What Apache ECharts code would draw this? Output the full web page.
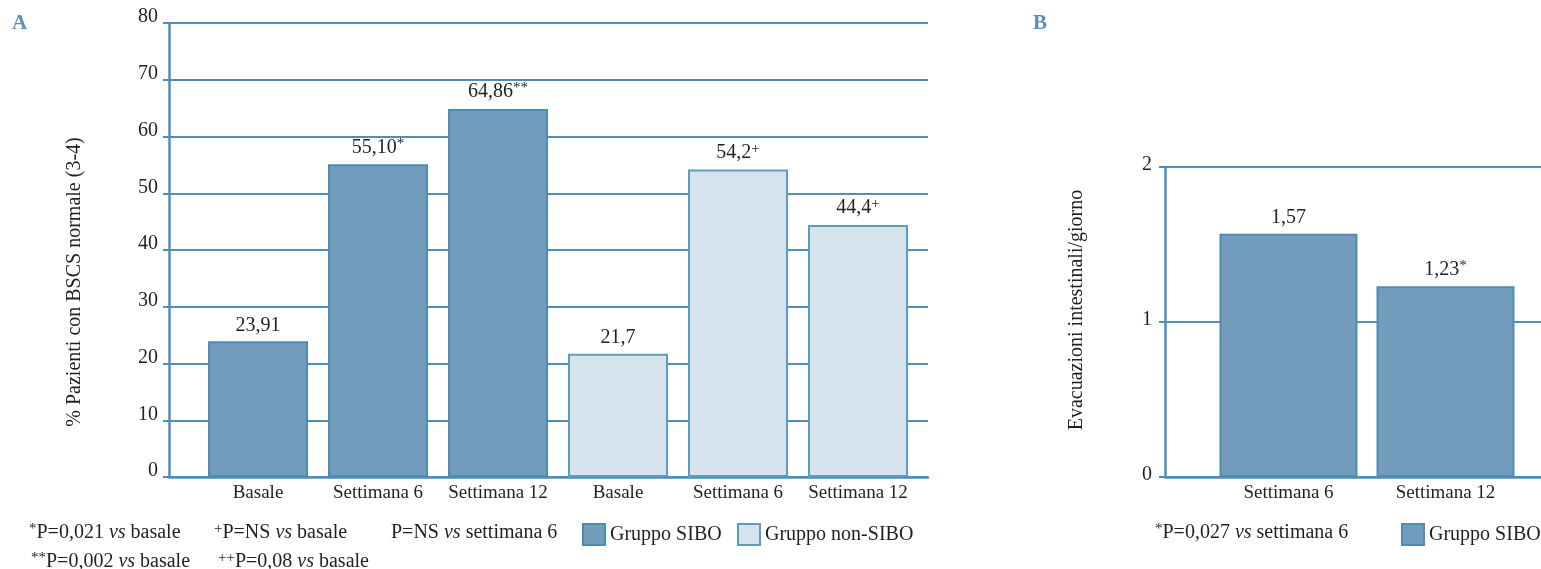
<!DOCTYPE html>
<html>
<head>
<meta charset="utf-8">
<script src="https://cdn.jsdelivr.net/npm/echarts@6/dist/echarts.min.js"></script>
<style>
  html, body { margin: 0; padding: 0; background: #ffffff; }
  #chart { width: 1541px; height: 569px; }
</style>
</head>
<body>
<div id="chart"></div>
<script>
// Panel A: % patients with normal BSCS (3-4)
const categoriesA = ['Basale', 'Settimana 6', 'Settimana 12', 'Basale', 'Settimana 6', 'Settimana 12'];
const siboA = [23.91, 55.10, 64.86];
const nonSiboA = [21.7, 54.2, 44.4];
const decimalsA = [2, 2, 2, 1, 1, 1];
const marksA = ['', '*', '**', '', '+', '+'];

// Panel B: bowel movements per day
const categoriesB = ['Settimana 6', 'Settimana 12'];
const siboB = [1.57, 1.23];
const decimalsB = [2, 2];
const marksB = ['', '*'];

const FONT = '"Liberation Serif", "DejaVu Serif", serif';
const INK = '#231f20';
const LINE = '#4f8fb7';
const DARK_FILL = '#739cbc';
const DARK_EDGE = '#4e8db3';
const LIGHT_FILL = '#d6e2ec';
const LIGHT_EDGE = '#5b9cc2';
const LETTER = '#5a8fbf';

const fmt = (v, d) => v.toFixed(d).replace('.', ',');

const valueRich = {
  v: { fontFamily: FONT, fontSize: 20, color: INK },
  s: { fontFamily: FONT, fontSize: 15, color: INK, padding: [0, 0, 7, 0] }
};

function valueLabel(decimals, marks) {
  return {
    show: true,
    position: 'top',
    distance: 6,
    formatter: p => {
      const i = p.dataIndex;
      const m = marks[i];
      return '{v|' + fmt(p.value, decimals[i]) + '}' + (m ? '{s|' + m + '}' : '');
    },
    rich: valueRich
  };
}

const padded = (arr, before, after) =>
  Array(before).fill('-').concat(arr, Array(after).fill('-'));

const frameY = (min, max, interval, margin, lift) => ({
  min, max, interval,
  axisLine: { show: true, lineStyle: { color: LINE, width: 2.5 } },
  axisTick: { show: true, length: 6, lineStyle: { color: LINE, width: 2 } },
  splitLine: { show: true, lineStyle: { color: LINE, width: 2 } },
  axisLabel: {
    margin,
    formatter: '{t|{value}}',
    rich: { t: { fontFamily: FONT, fontSize: 20, color: INK, padding: [0, 0, lift, 0] } }
  }
});

const hiddenY = (gridIndex, min, max) => ({
  gridIndex, min, max, show: false
});

const frameX = gridIndex => ({
  gridIndex, type: 'value', min: 0, max: 1,
  axisLine: { show: true, onZero: false, lineStyle: { color: LINE, width: 2.5 } },
  axisTick: { show: false }, axisLabel: { show: false }, splitLine: { show: false }
});

const catX = (gridIndex, data) => ({
  gridIndex, type: 'category', data,
  axisLine: { show: false }, axisTick: { show: false },
  axisLabel: { fontFamily: FONT, fontSize: 19, color: INK, margin: 7, interval: 0 }
});

const legendAt = (name, left) => ({
  data: [{ name, icon: 'rect' }], left, top: 523, padding: 0,
  itemWidth: 22, itemHeight: 21, selectedMode: false,
  textStyle: { fontFamily: FONT, fontSize: 20, color: INK }
});

// footnote helper: segments of [text, style]
function note(x, y, parts) {
  return {
    type: 'text', x, y,
    style: {
      text: parts.map(p => '{' + p[1] + '|' + p[0] + '}').join(''),
      rich: {
        n: { fontFamily: FONT, fontSize: 20, fill: INK },
        i: { fontFamily: FONT, fontSize: 20, fill: INK, fontStyle: 'italic' },
        u: { fontFamily: FONT, fontSize: 15, fill: INK, padding: [0, 0, 7, 0] }
      },
      verticalAlign: 'middle'
    }
  };
}

const chart = echarts.init(document.getElementById('chart'), null, { renderer: 'canvas' });

chart.setOption({
  animation: false,
  backgroundColor: '#ffffff',
  grid: [
    { left: 169, top: 23, width: 759, height: 454 },
    { left: 198, top: 23, width: 720, height: 454 },
    { left: 1165, top: 167, width: 380, height: 310 },
    { left: 1210, top: 167, width: 314, height: 310 }
  ],
  xAxis: [
    frameX(0),
    catX(1, categoriesA),
    frameX(2),
    catX(3, categoriesB)
  ],
  yAxis: [
    Object.assign({ gridIndex: 0 }, frameY(0, 80, 10, 11, 12)),
    hiddenY(1, 0, 80),
    Object.assign({ gridIndex: 2 }, frameY(0, 2, 1, 13, 4)),
    hiddenY(3, 0, 2)
  ],
  legend: [
    legendAt('Gruppo SIBO', 582),
    legendAt('Gruppo non-SIBO', 737),
    legendAt('Gruppo SIBO', 1401)
  ],
  series: [
    {
      name: 'Gruppo SIBO', type: 'bar', xAxisIndex: 1, yAxisIndex: 1,
      data: padded(siboA, 0, 3), barWidth: 100, barGap: '-100%',
      itemStyle: { color: DARK_FILL, borderColor: DARK_EDGE, borderWidth: 2 },
      label: valueLabel(decimalsA, marksA),
      z: 3
    },
    {
      name: 'Gruppo non-SIBO', type: 'bar', xAxisIndex: 1, yAxisIndex: 1,
      data: padded(nonSiboA, 3, 0), barWidth: 100, barGap: '-100%',
      itemStyle: { color: LIGHT_FILL, borderColor: LIGHT_EDGE, borderWidth: 2 },
      label: valueLabel(decimalsA, marksA),
      z: 3
    },
    {
      name: 'Gruppo SIBO', type: 'bar', xAxisIndex: 3, yAxisIndex: 3,
      data: siboB, barWidth: 138,
      itemStyle: { color: DARK_FILL, borderColor: DARK_EDGE, borderWidth: 2 },
      label: valueLabel(decimalsB, marksB),
      z: 3
    }
  ],
  graphic: [
    { type: 'text', x: 12, y: 24, style: { text: 'A', fontFamily: FONT, fontSize: 21, fontWeight: 'bold', fill: LETTER, verticalAlign: 'middle' } },
    { type: 'text', x: 1033, y: 24, style: { text: 'B', fontFamily: FONT, fontSize: 21, fontWeight: 'bold', fill: LETTER, verticalAlign: 'middle' } },
    {
      type: 'text', x: 75, y: 282, rotation: Math.PI / 2,
      style: { text: '% Pazienti con BSCS normale (3-4)', fontFamily: FONT, fontSize: 20, fill: INK, align: 'center', verticalAlign: 'middle' }
    },
    {
      type: 'text', x: 1077, y: 310, rotation: Math.PI / 2,
      style: { text: 'Evacuazioni intestinali/giorno', fontFamily: FONT, fontSize: 20, fill: INK, align: 'center', verticalAlign: 'middle' }
    },
    note(29, 533, [['*', 'u'], ['P=0,021 ', 'n'], ['vs', 'i'], [' basale', 'n']]),
    note(214, 533, [['+', 'u'], ['P=NS ', 'n'], ['vs', 'i'], [' basale', 'n']]),
    note(391, 533, [['P=NS ', 'n'], ['vs', 'i'], [' settimana 6', 'n']]),
    note(31, 562, [['**', 'u'], ['P=0,002 ', 'n'], ['vs', 'i'], [' basale', 'n']]),
    note(218, 562, [['++', 'u'], ['P=0,08 ', 'n'], ['vs', 'i'], [' basale', 'n']]),
    note(1155, 533, [['*', 'u'], ['P=0,027 ', 'n'], ['vs', 'i'], [' settimana 6', 'n']])
  ]
});
</script>
</body>
</html>
